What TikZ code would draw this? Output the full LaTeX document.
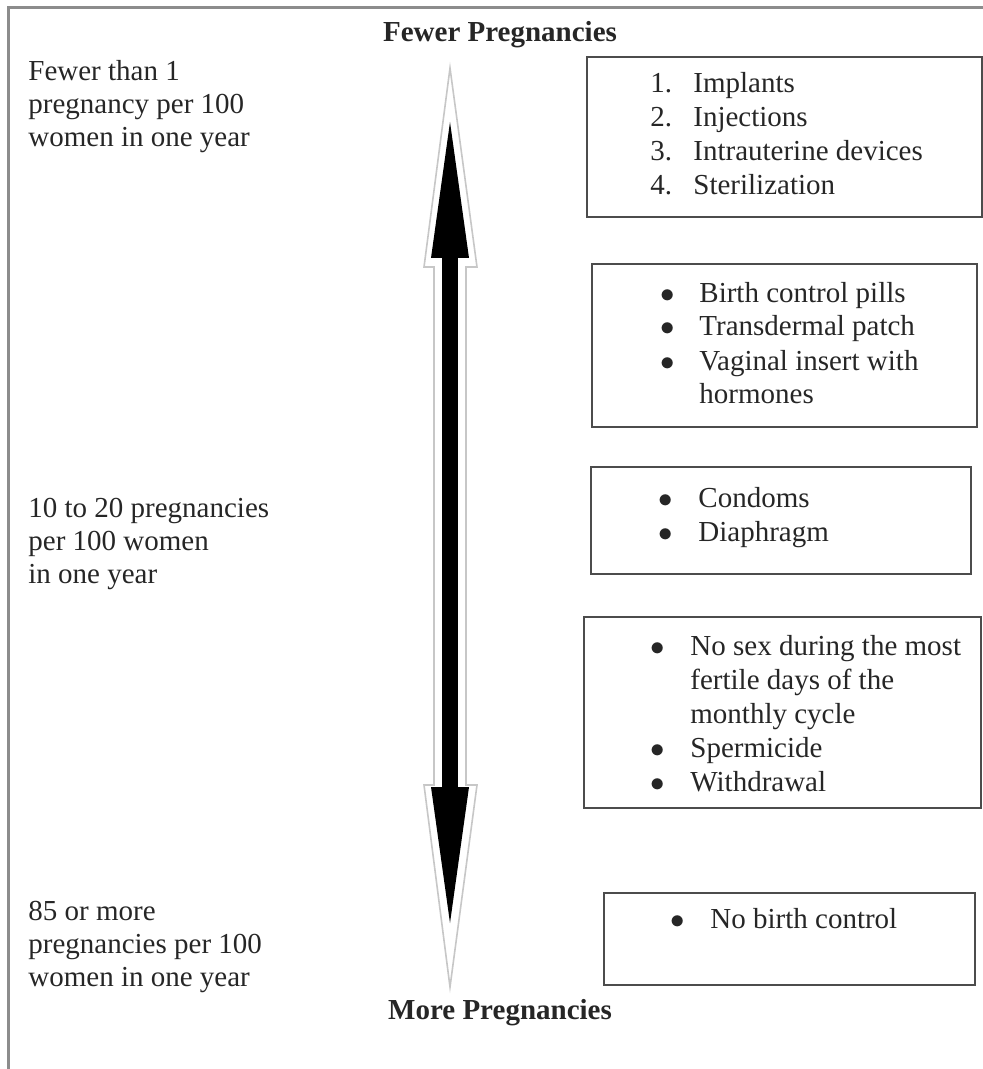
\documentclass[tikz,border=0pt]{standalone}
\usepackage{fontspec}
\setmainfont{Liberation Serif}
\usetikzlibrary{arrows.meta,fit}

\begin{document}
\begin{tikzpicture}[x=0.5pt,y=-0.5pt]
    \tikzstyle{every node}=[text=black!85, inner sep=0pt]
    \tikzstyle{rate}=[anchor=base west, align=left, font=\fontsize{14.5}{16.5}\selectfont]
    \tikzstyle{method list}=[anchor=base west, font=\fontsize{14.5}{17}\selectfont]
    \tikzstyle{method box}=[draw=black!70, line width=1pt]
    \tikzstyle{heading}=[anchor=base, font=\fontsize{14.5}{16.5}\selectfont\bfseries]
    \tikzstyle{scale arrow}=[line width=8pt, <->, >={Triangle[length=68pt, width=19pt, line width=0pt]}]

    \useasboundingbox (0,0) rectangle (983,1069);
    % page frame
    \draw[black!45, line width=1.5pt] (983,8) -- (8,8) -- (8,1069);

    % headings at the ends of the scale
    \node[heading] (fewer) at (500,42) {Fewer Pregnancies};
    \node[heading] (more) at (500,1019) {More Pregnancies};

    % the scale arrow with its pale outline
    \coordinate (S-top) at (450,122);
    \coordinate (S-bot) at (450,923);
    \draw[black!22, line width=0.8pt, fill=white] (450,68) -- (477,267) -- (466,267) -- (466,785) -- (477,785)
        -- (450,987) -- (424,785) -- (434,785) -- (434,267) -- (424,267) -- cycle;
    \draw[scale arrow] (S-top) -- (S-bot);

    % pregnancy rates (anchored on the last line)
    \node[rate] (R-1) at (28,147) {Fewer than 1\\pregnancy per 100\\women in one year};
    \node[rate] (R-2) at (28,583) {10 to 20 pregnancies\\per 100 women\\in one year};
    \node[rate] (R-3) at (28,986) {85 or more\\pregnancies per 100\\women in one year};

    % boxes with the methods
    \node[method box, fit={(587,57) (982,217)}] (B-1) {};
    \node[method box, fit={(592,264) (977,427)}] (B-2) {};
    \node[method box, fit={(591,467) (971,574)}] (B-3) {};
    \node[method box, fit={(584,617) (981,808)}] (B-4) {};
    \node[method box, fit={(604,893) (975,985)}] (B-5) {};

    \node[method list] (L-1) at (650,93) {\begin{tabular}[t]{@{}p{21.5pt}@{}l@{}}
        1. & Implants\\ 2. & Injections\\ 3. & Intrauterine devices\\ 4. & Sterilization\end{tabular}};
    \node[method list] (L-2) at (660,302) {\begin{tabular}[t]{@{}p{19.5pt}@{}l@{}}
        $\bullet$ & Birth control pills\\ $\bullet$ & Transdermal patch\\ $\bullet$ & Vaginal insert with\\ & hormones\end{tabular}};
    \node[method list] (L-3) at (658,507) {\begin{tabular}[t]{@{}p{20pt}@{}l@{}}
        $\bullet$ & Condoms\\ $\bullet$ & Diaphragm\end{tabular}};
    \node[method list] (L-4) at (650,655) {\begin{tabular}[t]{@{}p{20pt}@{}l@{}}
        $\bullet$ & No sex during the most\\ & fertile days of the\\ & monthly cycle\\ $\bullet$ & Spermicide\\ $\bullet$ & Withdrawal\end{tabular}};
    \node[method list] (L-5) at (670,928) {\begin{tabular}[t]{@{}p{20pt}@{}l@{}}
        $\bullet$ & No birth control\end{tabular}};
\end{tikzpicture}
\end{document}
